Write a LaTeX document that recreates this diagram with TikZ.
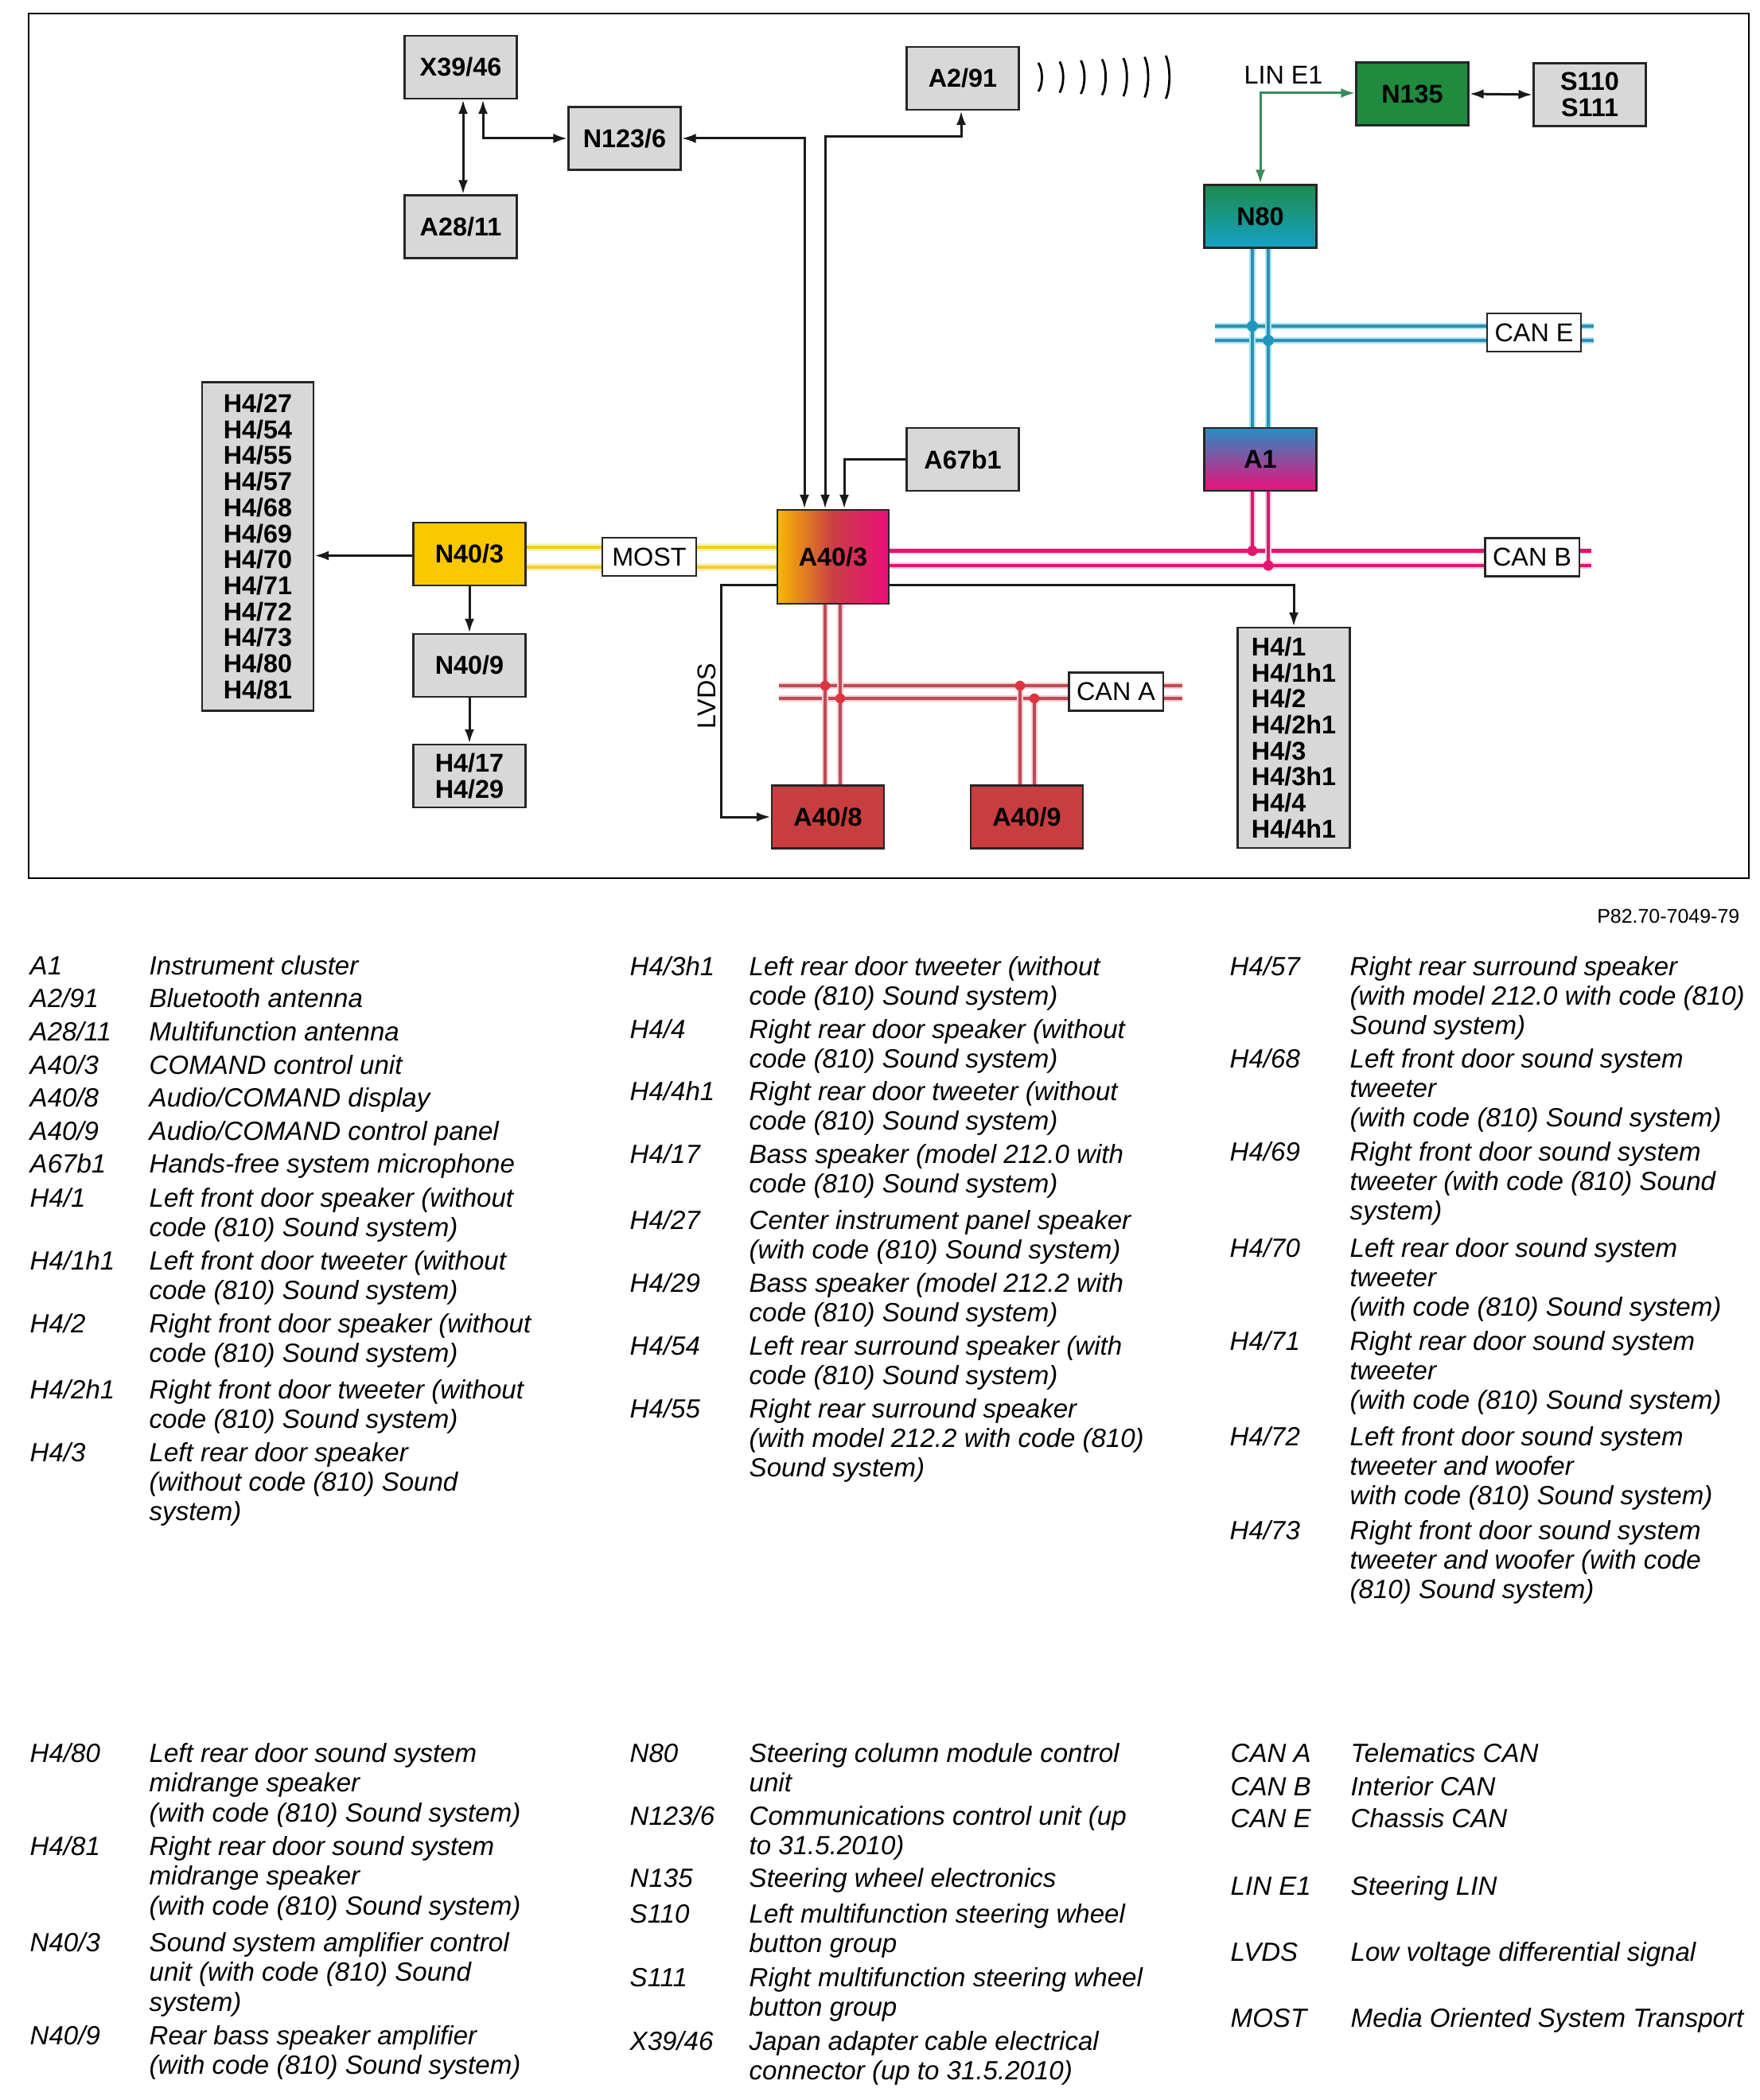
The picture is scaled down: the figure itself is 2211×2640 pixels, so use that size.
\documentclass[tikz,border=0pt]{standalone}
\usepackage{fontspec}
\setmainfont{Liberation Sans}
\usetikzlibrary{arrows.meta,calc}

\definecolor{boxgray}{RGB}{216,216,216}
\definecolor{n403y}{RGB}{250,200,0}
\definecolor{grn}{RGB}{32,138,62}
\definecolor{n80top}{RGB}{30,140,76}
\definecolor{teal2}{RGB}{20,162,198}
\definecolor{a1top}{RGB}{40,142,196}
\definecolor{mag}{RGB}{236,14,122}
\definecolor{a403l}{RGB}{246,184,0}
\definecolor{a403m}{RGB}{202,62,70}
\definecolor{redbox}{RGB}{200,62,62}
\definecolor{canA}{RGB}{188,76,86}
\definecolor{canAh}{RGB}{250,204,212}
\definecolor{canAd}{RGB}{222,52,64}
\definecolor{canB}{RGB}{226,22,110}
\definecolor{canBh}{RGB}{250,205,228}
\definecolor{canE}{RGB}{52,142,176}
\definecolor{canEh}{RGB}{160,232,244}
\definecolor{canEd}{RGB}{30,150,190}
\definecolor{mostc}{RGB}{242,204,40}
\definecolor{mosth}{RGB}{252,242,185}
\definecolor{linc}{RGB}{56,140,92}

\newcommand\legentry[6]{%
  \node[legt,anchor=base west] (#1c) at (#2,#4) {#5};
  \node[legt,anchor=base west] (#1d) at (#3,#4) {\parbox[t]{6.5cm}{#6}};}

\begin{document}
\begin{tikzpicture}[x=0.01cm,y=-0.01cm,
  >={Latex[length=5pt,width=3.4pt]},
  box/.style={draw=black!85,line width=0.8pt,minimum width=1.41cm,minimum height=0.79cm,
    inner sep=0pt,align=center,font=\bfseries\fontsize{9.2}{9.3}\selectfont},
  gbox/.style={box,fill=boxgray},
  lbl/.style={draw=black!85,line width=0.6pt,fill=white,minimum width=1.18cm,
    minimum height=0.48cm,inner sep=0pt,font=\fontsize{9.2}{9.2}\selectfont},
  conn/.style={line width=0.85pt,draw=black!90},
  ebus/.style={draw=canEh,double=canE,double distance=1.15pt,line width=0.6pt},
  bbus/.style={draw=canBh,double=canB,double distance=1.3pt,line width=0.4pt},
  abus/.style={draw=canAh,double=canA,double distance=1.15pt,line width=0.6pt},
  mbus/.style={draw=mosth,double=mostc,double distance=1.2pt,line width=0.9pt},
  legt/.style={inner sep=0pt,font=\itshape\fontsize{9.4}{10.66}\selectfont}]

\useasboundingbox (0,0) rectangle (2211,2640);
\fill[white] (0,0) rectangle (2211,2640);
\draw[line width=0.7pt] (36,17) rectangle (2198,1104);

% ---------- main boxes ----------
\node[gbox] (x3946) at (579,84.5) {X39/46};
\node[gbox] (n1236) at (785,174) {N123/6};
\node[gbox] (a2811) at (579,285) {A28/11};
\node[gbox] (a291) at (1210,98.5) {A2/91};
\node[box,fill=grn] (n135) at (1775,118) {N135};
\node[gbox] (s110) at (1998,119) {S110\\S111};
\node[box,top color=n80top,bottom color=teal2] (n80) at (1584,272) {N80};
\node[gbox] (a67b1) at (1210,577.5) {A67b1};
\node[box,top color=a1top,bottom color=mag] (a1) at (1584,577.5) {A1};
\node[box,minimum width=1.40cm,minimum height=1.18cm,left color=a403l,right color=mag,middle color=a403m] (a403) at (1047,700) {A40/3};
\node[box,fill=n403y] (n403) at (590,696.5) {N40/3};
\node[gbox] (n409) at (590,836.5) {N40/9};
\node[gbox] (h417) at (590,975.5) {H4/17\\H4/29};
\node[gbox,minimum width=1.40cm,minimum height=4.12cm,align=left] (h427) at (324,687)
  {H4/27\\H4/54\\H4/55\\H4/57\\H4/68\\H4/69\\H4/70\\H4/71\\H4/72\\H4/73\\H4/80\\H4/81};
\node[box,fill=redbox] (a408) at (1040.5,1027) {A40/8};
\node[box,fill=redbox] (a409) at (1290.5,1027) {A40/9};
\node[gbox,minimum height=2.77cm,align=left] (h41) at (1626,927.5)
  {H4/1\\H4/1h1\\H4/2\\H4/2h1\\H4/3\\H4/3h1\\H4/4\\H4/4h1};

% ---------- bus coordinates ----------
\coordinate (ce1l) at (1527,410); \coordinate (ce1r) at (2003,410);
\coordinate (ce2l) at (1527,428); \coordinate (ce2r) at (2003,428);
\coordinate (cb1) at (0,692.5);   \coordinate (cb1r) at (2000,692.5);
\coordinate (cb2) at (0,711);     \coordinate (cb2r) at (2000,711);
\coordinate (ca1l) at (979,862);  \coordinate (ca1r) at (1486,862);
\coordinate (ca2l) at (979,878);  \coordinate (ca2r) at (1486,878);
\coordinate (m1) at (0,688);      \coordinate (m2) at (0,713);
\coordinate (ve1) at (1574,0);    \coordinate (ve2) at (1594,0);
\coordinate (va1) at (1037,0);    \coordinate (va2) at (1056,0);
\coordinate (vb1) at (1282,0);    \coordinate (vb2) at (1300,0);

% CAN E
\draw[ebus] (ce1l) -- (ce1r);
\draw[ebus] (ce2l) -- (ce2r);
\draw[ebus] (n80.south -| ve1) -- (a1.north -| ve1);
\draw[ebus] (n80.south -| ve2) -- (a1.north -| ve2);
\fill[canEd] (ce1l -| ve1) circle[radius=0.07cm];
\fill[canEd] (ce2l -| ve2) circle[radius=0.07cm];

% CAN B
\draw[bbus] (a403.east |- cb1) -- (cb1r);
\draw[bbus] (a403.east |- cb2) -- (cb2r);
\draw[bbus] (a1.south -| ve1) -- (cb1 -| ve1);
\draw[bbus] (a1.south -| ve2) -- (cb2 -| ve2);
\fill[canB] (cb1 -| ve1) circle[radius=0.065cm];
\fill[canB] (cb2 -| ve2) circle[radius=0.065cm];

% CAN A
\draw[abus] (ca1l) -- (ca1r);
\draw[abus] (ca2l) -- (ca2r);
\draw[abus] (a403.south -| va1) -- (a408.north -| va1);
\draw[abus] (a403.south -| va2) -- (a408.north -| va2);
\draw[abus] (ca1l -| vb1) -- (a409.north -| vb1);
\draw[abus] (ca2l -| vb2) -- (a409.north -| vb2);
\fill[canAd] (ca1l -| va1) circle[radius=0.062cm];
\fill[canAd] (ca2l -| va2) circle[radius=0.062cm];
\fill[canAd] (ca1l -| vb1) circle[radius=0.062cm];
\fill[canAd] (ca2l -| vb2) circle[radius=0.062cm];

% MOST
\draw[mbus] (n403.east |- m1) -- (a403.west |- m1);
\draw[mbus] (n403.east |- m2) -- (a403.west |- m2);

% ---------- label boxes ----------
\node[lbl] (most) at (816,700) {MOST};
\node[lbl] (cane) at (1928,418) {CAN E};
\node[lbl] (canb) at (1925.5,700.5) {CAN B};
\node[lbl] (cana) at (1402.5,869.5) {CAN A};
\node[inner sep=0pt,font=\fontsize{9.2}{9.2}\selectfont] (line1) at (1613,94) {LIN E1};
\node[inner sep=0pt,rotate=90,font=\fontsize{9.2}{9.2}\selectfont] (lvds) at (888,875) {LVDS};
\node[inner sep=0pt,anchor=base east,font=\fontsize{7.1}{7.1}\selectfont] (pnum) at (2187,1160) {P82.70-7049-79};

% ---------- connectors ----------
\draw[conn,<->] ($(x3946.south)+(3,0)$) -- ($(a2811.north)+(3,0)$);
\draw[conn,<->] ($(x3946.south)+(28,0)$) |- (n1236.west);
\draw[conn,<->] (n1236.east) -| ($(a403.north)+(-36,0)$);
\draw[conn,<->] ($(a403.north)+(-10,0)$) -- ++(0,-468) -| ($(a291.south)+(-2,0)$);
\draw[conn,->] (a67b1.west) -| ($(a403.north)+(14,0)$);
\draw[conn,->] ($(n403.west)+(0,2)$) -- ($(n403.west -| h427.east)+(0,2)$);
\draw[conn,->] (n403.south) -- (n409.north);
\draw[conn,->] (n409.south) -- (h417.north);
\draw[conn,->] ($(a403.south west)+(0,-25)$) -- ++(-69,0) |- (a408.west);
\draw[conn,->] ($(a403.south east)+(0,-25)$) -| (h41.north);
\draw[conn,<->] (n135.east) -- (s110.west);
\draw[line width=0.85pt,draw=linc,<->] ($(n135.west)+(0,-1)$) -| (n80.north);

% radio waves
\foreach \i/\h in {0/36,1/39,2/42,3/45,4/48,5/51,6/54}{
  \pgfmathsetmacro\xx{1305+\i*26.7}
  \draw[line width=0.8pt] ({\xx},{97-\h/2}) .. controls ({\xx+6},{97-\h/4}) and ({\xx+6},{97+\h/4}) .. ({\xx},{97+\h/2});
}

% ---------- legend ----------
\legentry{la}{37}{187}{1225}{A1}{Instrument cluster}
\legentry{lb}{37}{187}{1266}{A2/91}{Bluetooth antenna}
\legentry{lc}{37}{187}{1308}{A28/11}{Multifunction antenna}
\legentry{ld}{37}{187}{1350}{A40/3}{COMAND control unit}
\legentry{le}{37}{187}{1391}{A40/8}{Audio/COMAND display}
\legentry{lf}{37}{187}{1433}{A40/9}{Audio/COMAND control panel}
\legentry{lg}{37}{187}{1474}{A67b1}{Hands-free system microphone}
\legentry{lh}{37}{187}{1517}{H4/1}{Left front door speaker (without\\code (810) Sound system)}
\legentry{li}{37}{187}{1596}{H4/1h1}{Left front door tweeter (without\\code (810) Sound system)}
\legentry{lj}{37}{187}{1675}{H4/2}{Right front door speaker (without\\code (810) Sound system)}
\legentry{lk}{37}{187}{1758}{H4/2h1}{Right front door tweeter (without\\code (810) Sound system)}
\legentry{ll}{37}{187}{1837}{H4/3}{Left rear door speaker\\(without code (810) Sound\\system)}

\legentry{ma}{791}{941}{1226}{H4/3h1}{Left rear door tweeter (without\\code (810) Sound system)}
\legentry{mb}{791}{941}{1305}{H4/4}{Right rear door speaker (without\\code (810) Sound system)}
\legentry{mc}{791}{941}{1383}{H4/4h1}{Right rear door tweeter (without\\code (810) Sound system)}
\legentry{md}{791}{941}{1462}{H4/17}{Bass speaker (model 212.0 with\\code (810) Sound system)}
\legentry{me}{791}{941}{1545}{H4/27}{Center instrument panel speaker\\(with code (810) Sound system)}
\legentry{mf}{791}{941}{1624}{H4/29}{Bass speaker (model 212.2 with\\code (810) Sound system)}
\legentry{mg}{791}{941}{1703}{H4/54}{Left rear surround speaker (with\\code (810) Sound system)}
\legentry{mh}{791}{941}{1782}{H4/55}{Right rear surround speaker\\(with model 212.2 with code (810)\\Sound system)}

\legentry{na}{1545}{1696}{1226}{H4/57}{Right rear surround speaker\\(with model 212.0 with code (810)\\Sound system)}
\legentry{nb}{1545}{1696}{1342}{H4/68}{Left front door sound system\\tweeter\\(with code (810) Sound system)}
\legentry{nc}{1545}{1696}{1459}{H4/69}{Right front door sound system\\tweeter (with code (810) Sound\\system)}
\legentry{nd}{1545}{1696}{1580}{H4/70}{Left rear door sound system\\tweeter\\(with code (810) Sound system)}
\legentry{ne}{1545}{1696}{1697}{H4/71}{Right rear door sound system\\tweeter\\(with code (810) Sound system)}
\legentry{nf}{1545}{1696}{1817}{H4/72}{Left front door sound system\\tweeter and woofer\\with code (810) Sound system)}
\legentry{ng}{1545}{1696}{1935}{H4/73}{Right front door sound system\\tweeter and woofer (with code\\(810) Sound system)}

\legentry{pa}{37}{187}{2215}{H4/80}{Left rear door sound system\\midrange speaker\\(with code (810) Sound system)}
\legentry{pb}{37}{187}{2332}{H4/81}{Right rear door sound system\\midrange speaker\\(with code (810) Sound system)}
\legentry{pc}{37}{187}{2453}{N40/3}{Sound system amplifier control\\unit (with code (810) Sound\\system)}
\legentry{pd}{37}{187}{2570}{N40/9}{Rear bass speaker amplifier\\(with code (810) Sound system)}

\legentry{qa}{791}{941}{2215}{N80}{Steering column module control\\unit}
\legentry{qb}{791}{941}{2294}{N123/6}{Communications control unit (up\\to 31.5.2010)}
\legentry{qc}{791}{941}{2372}{N135}{Steering wheel electronics}
\legentry{qd}{791}{941}{2417}{S110}{Left multifunction steering wheel\\button group}
\legentry{qe}{791}{941}{2497}{S111}{Right multifunction steering wheel\\button group}
\legentry{qf}{791}{941}{2577}{X39/46}{Japan adapter cable electrical\\connector (up to 31.5.2010)}

\legentry{ra}{1546}{1697}{2215}{CAN A}{Telematics CAN}
\legentry{rb}{1546}{1697}{2257}{CAN B}{Interior CAN}
\legentry{rc}{1546}{1697}{2297}{CAN E}{Chassis CAN}
\legentry{rd}{1546}{1697}{2382}{LIN E1}{Steering LIN}
\legentry{re}{1546}{1697}{2465}{LVDS}{Low voltage differential signal}
\legentry{rf}{1546}{1697}{2548}{MOST}{Media Oriented System Transport}

\end{tikzpicture}
\end{document}
